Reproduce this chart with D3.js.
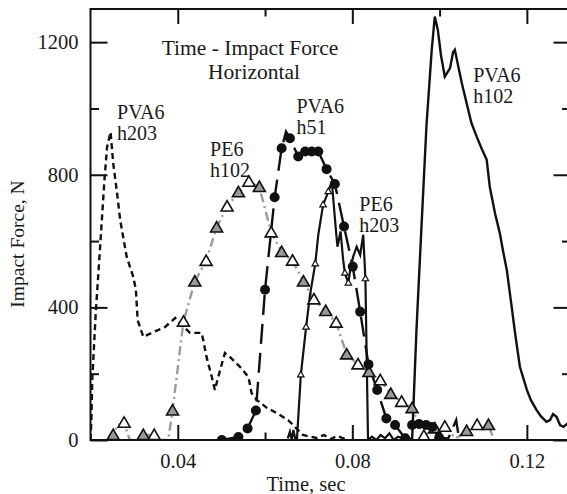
<!DOCTYPE html>
<html>
<head>
<meta charset="utf-8">
<script src="https://cdn.jsdelivr.net/npm/d3@7"></script>
<style>
body { margin: 0; background: #fff; }
text { font-family: "Liberation Serif", "Times New Roman", serif; fill: #1a1a1a; }
</style>
</head>
<body>
<svg id="chart" width="567" height="494"></svg>
<script>
// time (sec), force (N)

// PVA6 h203, short dashed
var pva6h203 = [[0.0200,0],[0.0202,60],[0.0204,181],[0.0212,383],[0.0222,582],[0.0232,785],[0.0238,884],
  [0.0246,929],[0.0252,835],[0.0260,754],[0.0268,664],[0.0283,552],[0.0298,492],[0.0304,453],[0.0308,362],
  [0.0321,311],[0.0340,323],[0.0371,341],[0.0394,368],[0.0409,347],[0.0428,323],[0.0455,323],[0.0466,250],
  [0.0478,190],[0.0485,151],[0.0497,211],[0.0508,262],[0.0520,250],[0.0543,220],[0.0562,190],[0.0569,142],
  [0.0581,121],[0.0604,97],[0.0627,81],[0.0653,60],[0.0687,15],[0.0718,6],[0.0735,15],[0.0750,3],
  [0.0765,12],[0.0790,0]];

// PE6 h102, grey dash-dot line + triangles
var pe6h102 = [[0.0240,0],[0.0252,15],[0.0262,45],[0.0277,52],[0.0290,0],[0.0310,0],[0.0321,15],[0.0346,15],
  [0.0360,0],[0.0378,0],[0.0388,89],[0.0413,357],[0.0439,478],[0.0465,540],[0.0489,641],[0.0513,704],
  [0.0539,747],[0.0563,779],[0.0587,763],[0.0614,626],[0.0638,567],[0.0663,541],[0.0688,478],[0.0712,424],
  [0.0739,389],[0.0763,354],[0.0787,258],[0.0813,228],[0.0838,205],[0.0864,180],[0.0888,139],[0.0913,115],
  [0.0937,96],[0.0964,12],[0.0989,35],[0.1012,40],[0.1037,5],[0.1062,27],[0.1086,45],[0.1112,45],[0.1125,0]];
var pe6h102Marks = [[0.0252,15],[0.0277,52],[0.0321,15],[0.0346,15],[0.0388,89],[0.0413,357],[0.0439,478],
  [0.0465,540],[0.0489,641],[0.0513,704],[0.0539,747],[0.0563,779],[0.0587,763],[0.0614,626],[0.0638,567],
  [0.0663,541],[0.0688,478],[0.0712,424],[0.0739,389],[0.0763,354],[0.0787,258],[0.0813,228],[0.0838,205],
  [0.0864,180],[0.0888,139],[0.0913,115],[0.0937,96],[0.0964,12],[0.0989,35],[0.1012,40],[0.1062,27],
  [0.1086,45],[0.1112,45]];

// PVA6 h51, long dashed + filled circles
var pva6h51 = [[0.0501,0],[0.0539,9],[0.0560,35],[0.0579,89],[0.0600,453],[0.0622,732],[0.0638,880],
  [0.0648,930],[0.0657,910],[0.0676,855],[0.0692,870],[0.0707,870],[0.0722,870],[0.0741,817],[0.0760,772],
  [0.0781,644],[0.0801,523],[0.0818,387],[0.0837,228],[0.0857,151],[0.0878,65],[0.0898,45],[0.0921,5],
  [0.0937,45],[0.0953,48],[0.0969,45],[0.0983,39],[0.0999,7],[0.1020,5],[0.1038,60],[0.1045,0]];
var pva6h51Marks = [[0.0501,0],[0.0539,9],[0.0560,35],[0.0579,89],[0.0600,453],[0.0622,732],[0.0638,880],
  [0.0657,910],[0.0676,855],[0.0692,870],[0.0707,870],[0.0722,870],[0.0741,817],[0.0760,772],[0.0781,644],
  [0.0801,523],[0.0818,387],[0.0837,228],[0.0857,151],[0.0878,65],[0.0898,45],[0.0921,5],[0.0937,45],
  [0.0953,48],[0.0969,45],[0.0983,39],[0.0999,7]];

// PE6 h203, solid + small triangles
var pe6h203 = [[0.0652,5],[0.0657,25],[0.0661,0],[0.0665,30],[0.0669,5],[0.0673,0],[0.0682,196],[0.0694,340],
  [0.0703,437],[0.0715,531],[0.0722,619],[0.0733,709],[0.0745,749],[0.0753,779],[0.0763,624],[0.0766,583],
  [0.0773,629],[0.0779,543],[0.0783,503],[0.0791,473],[0.0795,513],[0.0802,553],[0.0810,583],[0.0818,558],
  [0.0825,619],[0.0830,486],[0.0836,0],[0.0845,10],[0.0855,0],[0.0865,15],[0.0875,5],[0.0885,20],
  [0.0895,0],[0.0905,10],[0.0915,5],[0.0925,15],[0.0935,0]];
var pe6h203Marks = [[0.0682,196],[0.0694,340],[0.0715,531],[0.0733,709],[0.0745,749],[0.0783,503],
  [0.0791,473],[0.0830,486]];

// PVA6 h102, solid
var pva6h102 = [[0.0937,0],[0.0947,332],[0.0957,603],[0.0970,950],[0.0982,1177],[0.0989,1277],[0.0996,1237],
  [0.1003,1162],[0.1012,1096],[0.1024,1122],[0.1031,1170],[0.1035,1177],[0.1043,1126],[0.1051,1076],
  [0.1062,1016],[0.1073,956],[0.1085,915],[0.1096,880],[0.1108,845],[0.1115,764],[0.1127,684],[0.1138,624],
  [0.1145,573],[0.1154,513],[0.1165,404],[0.1173,322],[0.1184,221],[0.1200,151],[0.1209,121],[0.1222,91],
  [0.1232,72],[0.1245,55],[0.1253,60],[0.1260,78],[0.1268,70],[0.1276,45],[0.1284,40],[0.1292,48],[0.1299,42]];

var xMajor = [0.04, 0.08, 0.12], xMinor = [0.06, 0.10];
var yMajor = [0, 400, 800, 1200], yMinor = [200, 600, 1000];

var svg = d3.select("#chart");
var pL = 90.5, pR = 570.5, pT = 9, pB = 440;

var x = d3.scaleLinear().domain([0.02, 0.13]).range([pL, pR]);
var y = d3.scaleLinear().domain([0, 1300]).range([pB, pT]);

svg.append("clipPath").attr("id", "clip")
  .append("rect").attr("x", pL).attr("y", pT - 5).attr("width", pR - pL).attr("height", pB - pT + 5);

var line = d3.line().x(function(d){ return x(d[0]); }).y(function(d){ return y(d[1]); });
var plot = svg.append("g").attr("clip-path", "url(#clip)");

plot.append("path").datum(pe6h102).attr("d", line)
  .attr("fill", "none").attr("stroke", "#9b9b9b").attr("stroke-width", 2.4).attr("stroke-dasharray", "9,4,2,4");
plot.append("path").datum(pva6h203).attr("d", line)
  .attr("fill", "none").attr("stroke", "#111").attr("stroke-width", 2.4).attr("stroke-dasharray", "6,4");
plot.append("path").datum(pe6h203).attr("d", line)
  .attr("fill", "none").attr("stroke", "#111").attr("stroke-width", 2.2);
plot.append("path").datum(pva6h102).attr("d", line)
  .attr("fill", "none").attr("stroke", "#111").attr("stroke-width", 2.4);
plot.append("path").datum(pva6h51).attr("d", line)
  .attr("fill", "none").attr("stroke", "#111").attr("stroke-width", 2.4).attr("stroke-dasharray", "20,9");

var triBig = d3.symbol().type(d3.symbolTriangle).size(62);
plot.selectAll(".tri").data(pe6h102Marks).enter().append("path")
  .attr("transform", function(d){ return "translate(" + x(d[0]) + "," + (y(d[1]) + 1) + ")"; })
  .attr("d", triBig)
  .attr("fill", function(d, i){ return i % 2 ? "#fff" : "#999"; })
  .attr("stroke", "#111").attr("stroke-width", 1.6);

var triSmall = d3.symbol().type(d3.symbolTriangle).size(18);
plot.selectAll(".tri2").data(pe6h203Marks).enter().append("path")
  .attr("transform", function(d){ return "translate(" + x(d[0]) + "," + y(d[1]) + ")"; })
  .attr("d", triSmall)
  .attr("fill", "#fff").attr("stroke", "#111").attr("stroke-width", 1.2);

plot.selectAll(".dot").data(pva6h51Marks).enter().append("circle")
  .attr("cx", function(d){ return x(d[0]); })
  .attr("cy", function(d){ return y(d[1]); })
  .attr("r", 5).attr("fill", "#111");

// axes, ticks pointing inward
function styleAxis(g) {
  g.select(".domain").remove();
  g.selectAll("line").attr("stroke", "#111").attr("stroke-width", 2);
  g.selectAll("text").style("font-size", "20.5px").attr("fill", "#1a1a1a");
}
svg.append("g").attr("transform", "translate(0," + pB + ")")
  .call(d3.axisBottom(x).tickValues(xMajor).tickSize(-15).tickPadding(13).tickFormat(d3.format(".2f"))).call(styleAxis);
svg.append("g").attr("transform", "translate(0," + pB + ")")
  .call(d3.axisBottom(x).tickValues(xMinor).tickSize(-7.5).tickFormat("")).call(styleAxis);
svg.append("g").attr("transform", "translate(0," + pT + ")")
  .call(d3.axisTop(x).tickValues(xMajor).tickSize(-15).tickFormat("")).call(styleAxis);
svg.append("g").attr("transform", "translate(0," + pT + ")")
  .call(d3.axisTop(x).tickValues(xMinor).tickSize(-7.5).tickFormat("")).call(styleAxis);
svg.append("g").attr("transform", "translate(" + pL + ",0)")
  .call(d3.axisLeft(y).tickValues(yMajor).tickSize(-17).tickPadding(12).tickFormat(d3.format("d"))).call(styleAxis);
svg.append("g").attr("transform", "translate(" + pL + ",0)")
  .call(d3.axisLeft(y).tickValues(yMinor).tickSize(-8.5).tickFormat("")).call(styleAxis);
svg.append("g").attr("transform", "translate(" + pR + ",0)")
  .call(d3.axisRight(y).tickValues(yMajor).tickSize(-17).tickFormat("")).call(styleAxis);
svg.append("g").attr("transform", "translate(" + pR + ",0)")
  .call(d3.axisRight(y).tickValues(yMinor).tickSize(-8.5).tickFormat("")).call(styleAxis);

svg.append("rect").attr("x", pL).attr("y", pT).attr("width", pR - pL).attr("height", pB - pT)
  .attr("fill", "none").attr("stroke", "#111").attr("stroke-width", 2);

// titles
svg.append("text").attr("x", 306).attr("y", 491).attr("text-anchor", "middle")
  .style("font-size", "20.5px").text("Time, sec");
svg.append("text").attr("transform", "translate(24,244) rotate(-90)").attr("text-anchor", "middle")
  .style("font-size", "19.5px").text("Impact Force, N");

svg.append("text").attr("x", 250).attr("y", 55).attr("text-anchor", "middle")
  .style("font-size", "21.5px").text("Time - Impact Force");
svg.append("text").attr("x", 254).attr("y", 78.5).attr("text-anchor", "middle")
  .style("font-size", "21.5px").text("Horizontal");

var labels = [
  { t: 0.0261, f: 967, a: "PVA6", b: "h203" },
  { t: 0.0474, f: 857, a: "PE6", b: "h102" },
  { t: 0.0672, f: 985, a: "PVA6", b: "h51" },
  { t: 0.0816, f: 690, a: "PE6", b: "h203" },
  { t: 0.1077, f: 1081, a: "PVA6", b: "h102" }
];
labels.forEach(function(l) {
  var t = svg.append("text").attr("x", x(l.t)).attr("y", y(l.f)).style("font-size", "20px");
  t.append("tspan").attr("x", x(l.t)).text(l.a);
  t.append("tspan").attr("x", x(l.t)).attr("dy", 21).text(l.b);
});
</script>
</body>
</html>
